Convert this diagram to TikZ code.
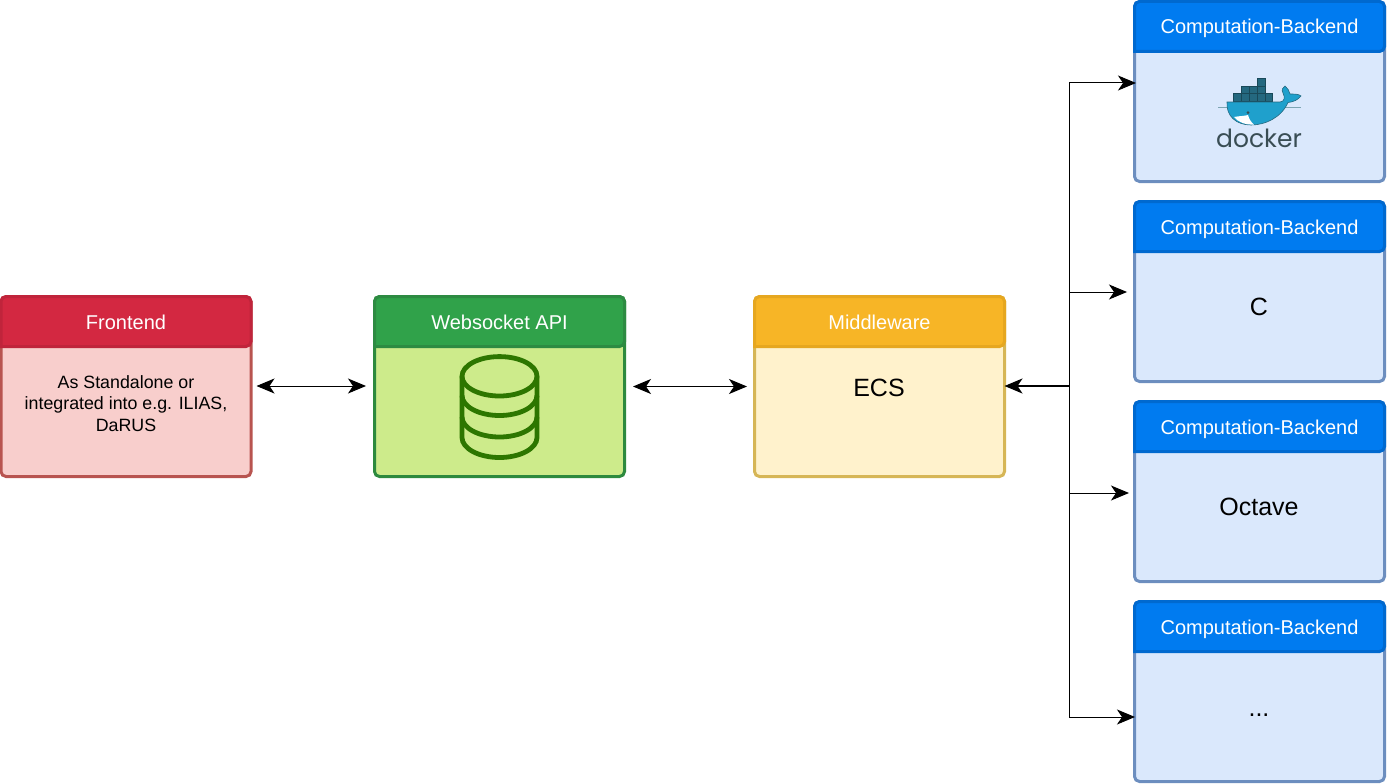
\documentclass[tikz,border=0pt]{standalone}
\usepackage{fontspec}
\setmainfont{Liberation Sans}
\newfontfamily\logofont{Poppins}
\usetikzlibrary{arrows.meta}

\definecolor{redhead}{HTML}{D32841}
\definecolor{redline}{HTML}{C0243B}
\definecolor{redbody}{HTML}{F8CECC}
\definecolor{redframe}{HTML}{B85450}
\definecolor{greenhead}{HTML}{30A24A}
\definecolor{greenline}{HTML}{2D8B42}
\definecolor{greenbody}{HTML}{CDEB8B}
\definecolor{greenframe}{HTML}{2D8A3E}
\definecolor{greenicon}{HTML}{2D7600}
\definecolor{yellowhead}{HTML}{F7B526}
\definecolor{yellowline}{HTML}{E6A720}
\definecolor{yellowbody}{HTML}{FFF2CC}
\definecolor{yellowframe}{HTML}{D6B656}
\definecolor{bluehead}{HTML}{007BF0}
\definecolor{blueline}{HTML}{0069CF}
\definecolor{bluebody}{HTML}{DAE8FC}
\definecolor{blueframe}{HTML}{6C8EBF}
\definecolor{whaledark}{HTML}{24687F}
\definecolor{whalelight}{HTML}{1FA0CC}
\definecolor{logotext}{HTML}{394D54}

\tikzset{
	panelbody/.style={draw,line width=3pt,rounded corners=5pt,minimum width=250pt,minimum height=180pt,inner sep=0pt,outer sep=0pt},
	paneltitle/.style={text=white,anchor=base,font=\fontsize{20}{24}\selectfont},
	bodytext/.style={anchor=base,font=\fontsize{25}{30}\selectfont},
	link/.style={draw=black,line width=1pt,{Stealth[length=18pt,width=15pt,inset=5pt]}-{Stealth[length=18pt,width=15pt,inset=5pt]}},
	branch/.style={draw=black,line width=1pt,-{Stealth[length=18pt,width=15pt,inset=5pt]}},
}
% box with a title bar: name, x, y, head colour, head line, body colour, frame, title
\newcommand{\panel}[8]{
	\node[panelbody,anchor=north west,draw=#7,fill=#6] (#1) at (#2,#3) {};
	\draw[line width=3pt,draw=#5,fill=#4,rounded corners=5pt] (#2,#3+50) -- (#2,#3) -- (#2+250,#3) -- (#2+250,#3+50) [sharp corners] -- cycle;
	\node[paneltitle] (#1title) at (#2+125,#3+32.5) {#8};
}

\begin{document}
\begin{tikzpicture}[x=1pt,y=-1pt]
\useasboundingbox (0,0) rectangle (1387,784);
	\panel{frontend}{1}{296.5}{redhead}{redline}{redbody}{redframe}{Frontend}
	\panel{api}{374.5}{296.5}{greenhead}{greenline}{greenbody}{greenframe}{Websocket API}
	\panel{middleware}{754.5}{296.5}{yellowhead}{yellowline}{yellowbody}{yellowframe}{Middleware}
	\panel{backendA}{1134.5}{1.5}{bluehead}{blueline}{bluebody}{blueframe}{Computation-Backend}
	\panel{backendB}{1134.5}{201.5}{bluehead}{blueline}{bluebody}{blueframe}{Computation-Backend}
	\panel{backendC}{1134.5}{401.5}{bluehead}{blueline}{bluebody}{blueframe}{Computation-Backend}
	\panel{backendD}{1134.5}{601.5}{bluehead}{blueline}{bluebody}{blueframe}{Computation-Backend}
	\node[align=center,font=\fontsize{17.8}{21.5}\selectfont] (frontendtext) at (126,403.5) {As Standalone or\\integrated into e.g. ILIAS,\\DaRUS};
	\node[bodytext] (ecs) at (879,396) {ECS};
	\node[bodytext] (langc) at (1259,315.5) {C};
	\node[bodytext] (octave) at (1259,515.5) {Octave};
	\node[bodytext] (dots) at (1259,716) {...};
% database icon
	\begin{scope}[draw=greenicon,line width=4.8pt]
	\draw (462,376.3) -- (462,437.5) arc[x radius=37.5,y radius=20,start angle=180,end angle=0] -- (537,376.3);
	\draw (499.5,376.3) ellipse[x radius=37.5,y radius=19.7];
	\draw (462,395.5) arc[x radius=37.5,y radius=20,start angle=180,end angle=0];
	\draw (462,417) arc[x radius=37.5,y radius=20,start angle=180,end angle=0];
	\end{scope}
% docker logo
	\begin{scope}[draw=whaledark!70!black,line width=.3pt,fill=whaledark]
	\foreach \x in {1233.5,1241.5,1249.5,1257.5,1265}
		\filldraw (\x,93.5) rectangle ++(7.5,8);
	\foreach \x in {1241.5,1249.5,1257.5}
		\filldraw (\x,86) rectangle ++(7.5,7.5);
	\filldraw (1257.5,78.5) rectangle ++(7.5,7.5);
	\end{scope}
	\draw[whaledark!60,line width=.7pt] (1218,107) -- (1301,107);
	\filldraw[draw=whaledark,line width=.6pt,fill=whalelight] (1227,102) -- (1280,102) .. controls (1285,101.5) and (1285,97) .. (1283,93) .. controls (1281,90) and (1283,87) .. (1285,86) .. controls (1288,88) and (1289,91) .. (1290,94) .. controls (1294,94) and (1299,94) .. (1301,96) .. controls (1298,100) and (1293,102) .. (1288,102.5) .. controls (1281,118) and (1265,125) .. (1251,125) .. controls (1236,125) and (1226,116) .. (1227,102) -- cycle;
	\fill[white] (1234,117) .. controls (1239,116) and (1245,116) .. (1248,115) .. controls (1249,119) and (1251,122) .. (1254,124.5) .. controls (1245,125) and (1238,122) .. (1234,117) -- cycle;
	\fill[logotext] (1248,112.7) circle (1.5pt);
	\node[text=logotext,inner sep=0pt,anchor=base,font=\logofont\fontsize{25}{30}\selectfont] (dockerword) at (1259,147.5) {docker};
% connectors
	\coordinate (bus) at (1069,386);
	\coordinate (endA) at (1136,83);
	\coordinate (endB) at (1127,292);
	\coordinate (endC) at (1129,493);
	\coordinate (endD) at (1135,717);
	\draw[link,shorten <=5.5pt,shorten >=8.5pt] ([yshift=.5pt]frontend.east) -- ([yshift=.5pt]api.west);
	\draw[link,shorten <=8.5pt,shorten >=7.5pt] (api.east) -- (middleware.west);
	\draw[branch,line width=2pt] (bus) -- ([yshift=.5pt]middleware.east);
	\draw[branch] (bus) |- (endA);
	\draw[branch] (bus) |- (endB);
	\draw[branch] (bus) |- (endC);
	\draw[branch] (bus) |- (endD);
\end{tikzpicture}
\end{document}
